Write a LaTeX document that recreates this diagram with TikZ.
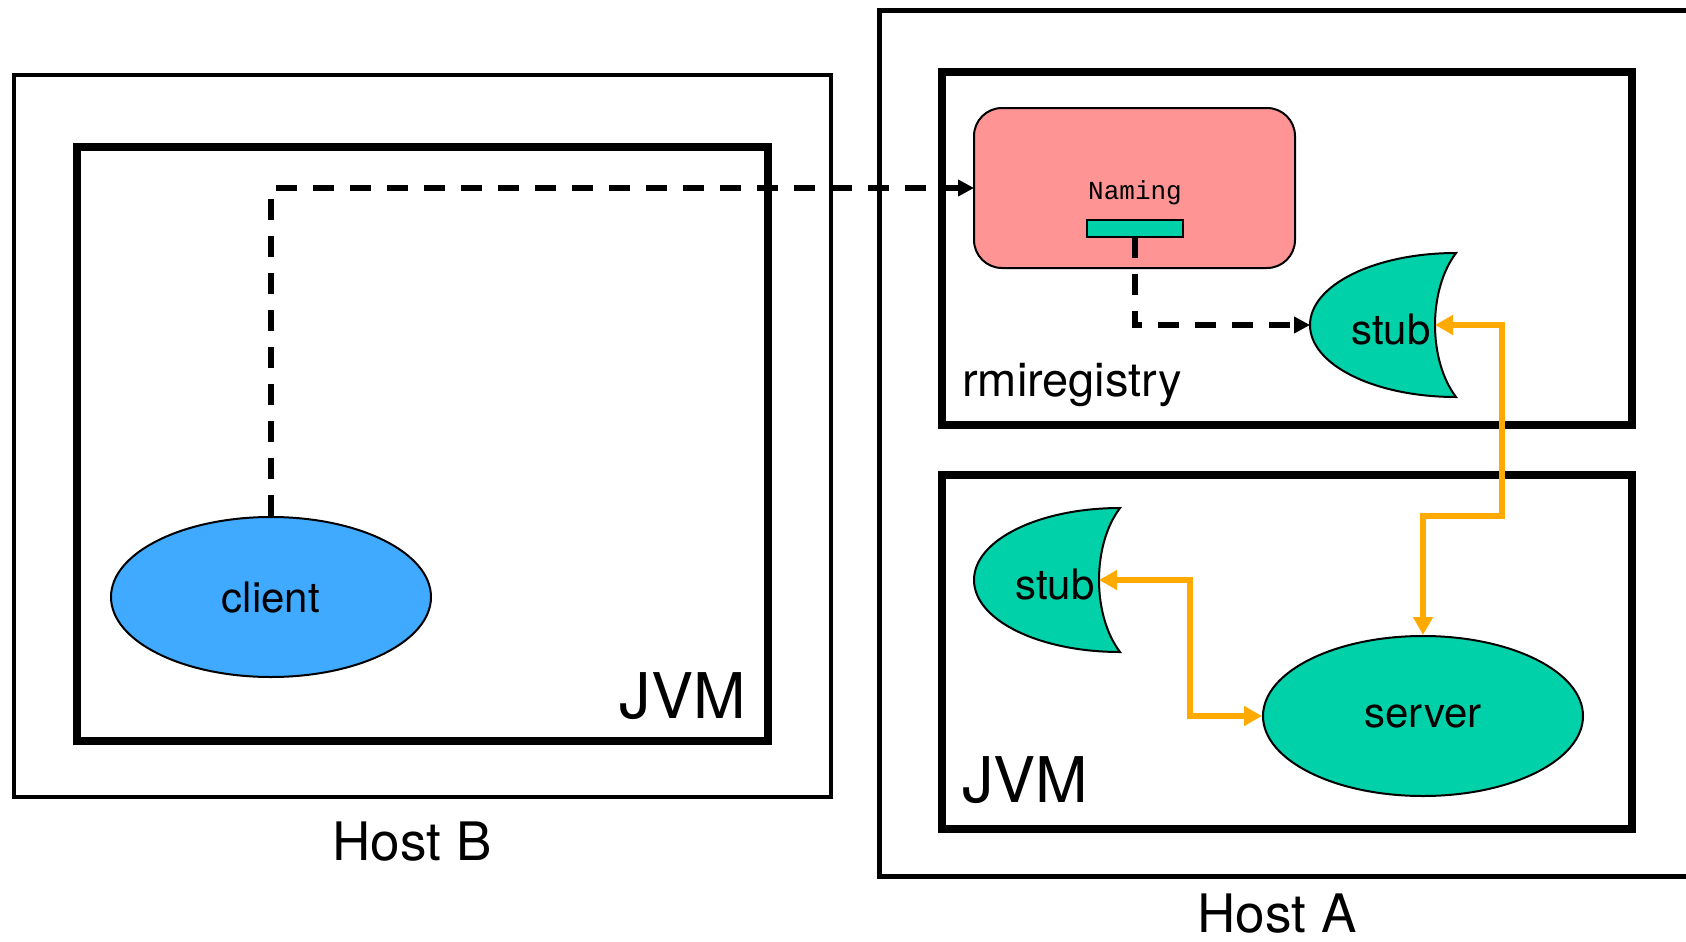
\documentclass[tikz,border=0pt]{standalone}
\usepackage{fontspec}
\setmainfont{TeX Gyre Heros}
\setmonofont{Liberation Mono}
\usetikzlibrary{shapes.geometric,arrows.meta}
\definecolor{regpink}{RGB}{255,148,148}
\definecolor{stubgreen}{RGB}{0,209,168}
\definecolor{clientblue}{RGB}{63,170,255}
\definecolor{callorange}{RGB}{255,170,0}
\tikzset{
  hostbox/.style={draw, line width=3.8pt, inner sep=0pt, outer sep=0pt},
  jvmbox/.style={draw, line width=8pt, inner sep=0pt, outer sep=0pt},
  obj/.style={ellipse, draw, line width=2pt, minimum width=320pt, minimum height=160pt,
    font=\fontsize{42}{50}\selectfont},
  lookup/.style={line width=5.5pt, dash pattern=on 21pt off 16pt,
    -{Triangle[length=16pt,width=16pt]}},
  call/.style={callorange, line width=5.5pt,
    {Triangle[length=18pt,width=19pt]}-{Triangle[length=18pt,width=19pt]}},
  pics/stubmoon/.style={code={
    \draw[fill=stubgreen, line width=2pt] (21,-72) .. controls (-60,-72) and (-125,-40) .. (-125,0)
      .. controls (-125,40) and (-60,72) .. (21,72)
      .. controls (-7,35) and (-7,-35) .. cycle;
    \node[anchor=base, inner sep=0pt, font=\fontsize{42}{50}\selectfont] (-lbl) at (-44,19) {stub};
    \coordinate (-tip) at (0,0);
    \coordinate (-left) at (-125,0);
  }}
}
\begin{document}
\begin{tikzpicture}[x=1pt, y=-1pt]
        \useasboundingbox (0,0) rectangle (1686,942);
        % Host B
        \node[hostbox, minimum width=817pt, minimum height=722pt] (hostB) at (422.5,436) {};
        \node[jvmbox, minimum width=691pt, minimum height=594pt] (jvmB) at (422.5,444) {};
        \node[anchor=base east, inner sep=0pt, font=\fontsize{63}{70}\selectfont] (jvmBlbl) at (746,718) {JVM};
        \node[anchor=base, inner sep=0pt, font=\fontsize{53}{60}\selectfont] (hostBlbl) at (412,860) {Host B};
        \node[obj, fill=clientblue] (client) at (271,597) {client};
        % Host A
        \draw[line width=5pt] (1690,11) -- (879,11) -- (879,876) -- (1690,876);
        \node[anchor=base, inner sep=0pt, font=\fontsize{53}{60}\selectfont] (hostAlbl) at (1277,932) {Host A};
        \node[jvmbox, minimum width=690pt, minimum height=353pt] (jvmReg) at (1287,248.5) {};
        \node[jvmbox, minimum width=690pt, minimum height=354pt] (jvmSrv) at (1287,652) {};
        \node[anchor=base west, inner sep=0pt, font=\fontsize{47}{55}\selectfont] (regLbl) at (962,396) {rmiregistry};
        \node[draw, fill=regpink, line width=2pt, rounded corners=28pt, minimum width=321pt,
              minimum height=160pt, outer sep=0pt] (naming) at (1134.5,188) {};
        \node[font=\ttfamily\fontsize{26}{30}\selectfont, inner sep=0pt] (namingLbl) at (1135,193) {Naming};
        \node[draw, fill=stubgreen, line width=2pt, minimum width=96pt, minimum height=17pt,
              inner sep=0pt, outer sep=0pt] (bar) at (1135,228.5) {};
        \pic (stubA) at (1435,325) {stubmoon};
        % server side
        \node[anchor=base west, inner sep=0pt, font=\fontsize{63}{70}\selectfont] (jvmAlbl) at (962,802) {JVM};
        \pic (stubB) at (1099,580) {stubmoon};
        \node[obj, fill=stubgreen] (server) at (1423,716) {server};
        % lookups and calls
        \coordinate (bendA) at (1502,516);
        \coordinate (bendB) at (1190,716);
        \draw[lookup] (client.north) |- (naming.west);
        \draw[lookup] (bar.south) |- (stubA-left);
        \draw[call] (stubA-tip) -| (bendA) -| (server.north);
        \draw[call] (stubB-tip) -| (bendB) -- (server.west);
\end{tikzpicture}
\end{document}
